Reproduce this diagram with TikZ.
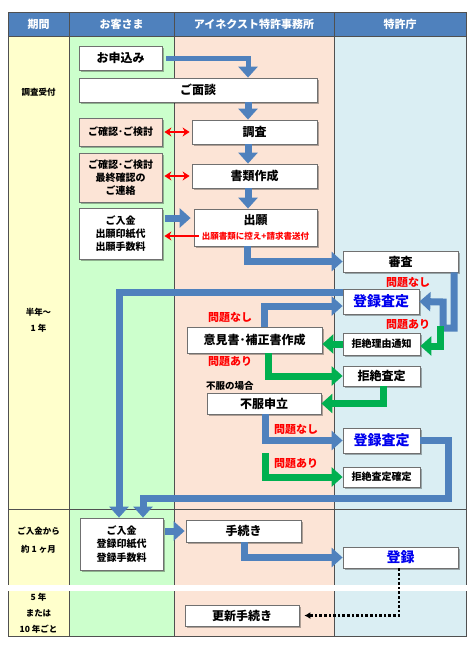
\documentclass[tikz,border=0pt]{standalone}
\usepackage{fontspec}
\setmainfont{Noto Sans CJK JP}
\usetikzlibrary{arrows.meta,shadows,calc}
\definecolor{hdrblue}{HTML}{4F81BD}
\definecolor{colY}{HTML}{FFFFCC}
\definecolor{colG}{HTML}{CCFFCC}
\definecolor{colP}{HTML}{FCE4D6}
\definecolor{colB}{HTML}{DAEEF3}
\definecolor{arrB}{HTML}{4F81BD}
\definecolor{arrG}{HTML}{00B050}
\definecolor{txtR}{HTML}{FF0000}
\definecolor{txtB}{HTML}{0000EE}
\definecolor{gridc}{HTML}{505050}
\definecolor{boxc}{HTML}{707070}
\begin{document}
\begin{tikzpicture}[x=1pt,y=-1pt,
 box/.style={draw=boxc, line width=0.8pt, fill=white, inner sep=0pt, align=center,
   font=\bfseries\fontsize{12}{14}\selectfont,
   drop shadow={shadow xshift=1.5pt,shadow yshift=-1.5pt,opacity=0.3,fill=black}},
 pbox/.style={box, fill=colP},
 sm/.style={font=\bfseries\fontsize{10}{13.3}\selectfont},
 bl/.style={text=txtB, font=\bfseries\fontsize{14}{16}\selectfont},
 bar/.style={draw=arrB, line width=7pt, -{Triangle[width=19pt,length=11pt]}},
 gar/.style={draw=arrG, line width=7pt, -{Triangle[width=19pt,length=11pt]}},
 rar/.style={draw=red, line width=2pt, {Stealth[length=7pt,width=9pt]}-{Stealth[length=7pt,width=9pt]}},
 rarone/.style={draw=red, line width=2pt, -{Stealth[length=7pt,width=9pt]}},
 dotarr/.style={draw=black, line width=2.6pt, dash pattern=on 2.6pt off 2pt, -{Latex[length=6pt,width=7pt]}},
 lbl/.style={text=txtR, inner sep=0pt, font=\bfseries\fontsize{11}{13}\selectfont},
 hdr/.style={text=white, inner sep=0pt, font=\bfseries\fontsize{11}{13}\selectfont},
 per/.style={inner sep=0pt, align=center, font=\bfseries\fontsize{8.5}{16}\selectfont},
]
\useasboundingbox (0,0) rectangle (474,651);
\fill[white] (0,0) rectangle (474,651);
% table
\fill[colY] (8,36) rectangle (69,636);
\fill[colG] (69,36) rectangle (174,636);
\fill[colP] (174,36) rectangle (334,636);
\fill[colB] (334,36) rectangle (466,636);
\fill[hdrblue] (8,12) rectangle (466,36);
\draw[gridc, line width=0.8pt] (8,12) rectangle (466,636);
\draw[gridc, line width=0.8pt] (69,12) -- (69,636) (174,12) -- (174,636) (334,12) -- (334,636)
  (8,36) -- (466,36) (8,509) -- (466,509);
\fill[white] (4,585) rectangle (470,591);
% headers
\node[hdr] (h1) at (38.5,24) {期間};
\node[hdr] (h2) at (121.5,24) {お客さま};
\node[hdr] (h3) at (254,24) {アイネクスト特許事務所};
\node[hdr] (h4) at (400,24) {特許庁};
% periods
\node[per] (p1) at (38.5,92) {調査受付};
\node[per] (p2) at (38.5,320) {半年〜\\1 年};
\node[per, font=\bfseries\fontsize{8.5}{18}\selectfont] (p3) at (38.5,540) {ご入金から\\約 1 ヶ月};
\node[per] (p4) at (38.5,613) {5 年\\または\\10 年ごと};
% boxes
\node[box, minimum width=83pt, minimum height=24pt] (apply) at (120.5,58) {お申込み};
\node[box, minimum width=238pt, minimum height=24pt] (mendan) at (198,90) {ご面談};
\node[pbox, sm, minimum width=83pt, minimum height=28pt] (kak1) at (120.5,132) {ご確認･ご検討};
\node[box, minimum width=125pt, minimum height=24pt] (chosa) at (254.5,132) {調査};
\node[pbox, sm, minimum width=83pt, minimum height=49pt] (kak2) at (120.5,177.5) {ご確認･ご検討\\最終確認の\\ご連絡};
\node[box, minimum width=125pt, minimum height=24pt] (shorui) at (254.5,176) {書類作成};
\node[box, sm, minimum width=83pt, minimum height=51pt] (nyu1) at (120.5,233.5) {ご入金\\出願印紙代\\出願手数料};
\node[box, minimum width=123pt, minimum height=37pt] (shutsu) at (255.5,227.5) {};
\node[inner sep=0pt, font=\bfseries\fontsize{12}{14}\selectfont] (shutsut) at (255.5,220) {出願};
\node[inner sep=0pt, text=txtR, font=\bfseries\fontsize{8.5}{10}\selectfont] (shutsur) at (255.5,236.5) {出願書類に控え+請求書送付};
\node[box, minimum width=115pt, minimum height=21pt] (shinsa) at (400.5,261.5) {審査};
\node[box, bl, minimum width=76pt, minimum height=25pt] (tor1) at (381,301.5) {登録査定};
\node[box, minimum width=135pt, minimum height=26pt] (iken) at (254.5,340) {意見書･補正書作成};
\node[box, sm, minimum width=77pt, minimum height=22pt] (riyu) at (381.5,344) {拒絶理由通知};
\node[box, minimum width=77pt, minimum height=20pt] (kyo) at (381.5,376) {拒絶査定};
\node[box, minimum width=114pt, minimum height=21pt] (fufuku) at (264,403.5) {不服申立};
\node[box, bl, minimum width=77pt, minimum height=25pt] (tor2) at (381.5,440.5) {登録査定};
\node[box, sm, minimum width=77pt, minimum height=20pt] (kakutei) at (381.5,477) {拒絶査定確定};
\node[box, sm, minimum width=83pt, minimum height=52pt] (nyu2) at (121.5,544) {ご入金\\登録印紙代\\登録手数料};
\node[box, minimum width=115pt, minimum height=22pt] (tetsu) at (243.5,531) {手続き};
\node[box, bl, minimum width=115pt, minimum height=21pt] (toroku) at (400.5,557.5) {登録};
\node[box, minimum width=114pt, minimum height=21pt] (koshin) at (242,615.5) {更新手続き};
% labels
\node[lbl] (l1) at (408,283) {問題なし};
\node[lbl] (l2) at (408,325) {問題あり};
\node[lbl] (l3) at (230,318) {問題なし};
\node[lbl] (l4) at (230,362) {問題あり};
\node[inner sep=0pt, anchor=west, font=\bfseries\fontsize{9.5}{11}\selectfont] (l5) at (206,386) {不服の場合};
\node[lbl] (l6) at (296,430) {問題なし};
\node[lbl] (l7) at (296,464) {問題あり};
% arrows
\draw[bar, line width=5pt] ([xshift=4pt]apply.east) -| (248,0 |- mendan.north);
\draw[bar] (248,0 |- mendan.south) -- (248,0 |- chosa.north);
\draw[bar] (248,0 |- chosa.south) -- (248,0 |- shorui.north);
\draw[bar] (248,0 |- shorui.south) -- (248,0 |- shutsu.north);
\draw[rar] ([xshift=2pt]kak1.east) -- ([xshift=-2pt]chosa.west);
\draw[rar] ([xshift=2pt]kak2.east |- shorui.west) -- ([xshift=-2pt]shorui.west);
\draw[bar, shorten >=3pt] ([xshift=3pt]nyu1.east |- 0,218) -- (shutsu.west |- 0,218);
\draw[rarone] ([xshift=5pt]shutsu.west |- 0,236) -- ([xshift=2pt]nyu1.east |- 0,236);
\draw[bar] (247,0 |- shutsu.south) |- (shinsa.west);
\draw[bar] (454,0 |- shinsa.south) -- (454,328) -- (443,328) -- (443,302) -- (tor1.east);
\draw[gar] (440,326) |- ([yshift=-2pt]riyu.east);
\draw[gar] (riyu.west) -- (iken.east |- riyu.west);
\draw[bar] (264,0 |- iken.north) |- (tor1.west |- 0,306);
\draw[bar] (tor1.west |- 0,292) -| (119,0 |- nyu2.north);
\draw[gar] (268,0 |- iken.south) |- (kyo.west);
\draw[gar] (383,0 |- kyo.south) |- (fufuku.east);
\draw[bar] (265,0 |- fufuku.south) |- (tor2.west);
\coordinate (gstart) at (265,453);
\draw[gar] (gstart) |- (kakutei.west);
\draw[bar] (tor2.east) -| (448,498) -| (143,0 |- nyu2.north);
\draw[bar, shorten >=1pt] ([xshift=2pt]nyu2.east |- tetsu.west) -- (tetsu.west);
\draw[bar] (244,0 |- tetsu.south) |- (toroku.west);
\draw[dotarr, shorten >=5pt] (399,0 |- toroku.south) |- (koshin.east);
\end{tikzpicture}
\end{document}
